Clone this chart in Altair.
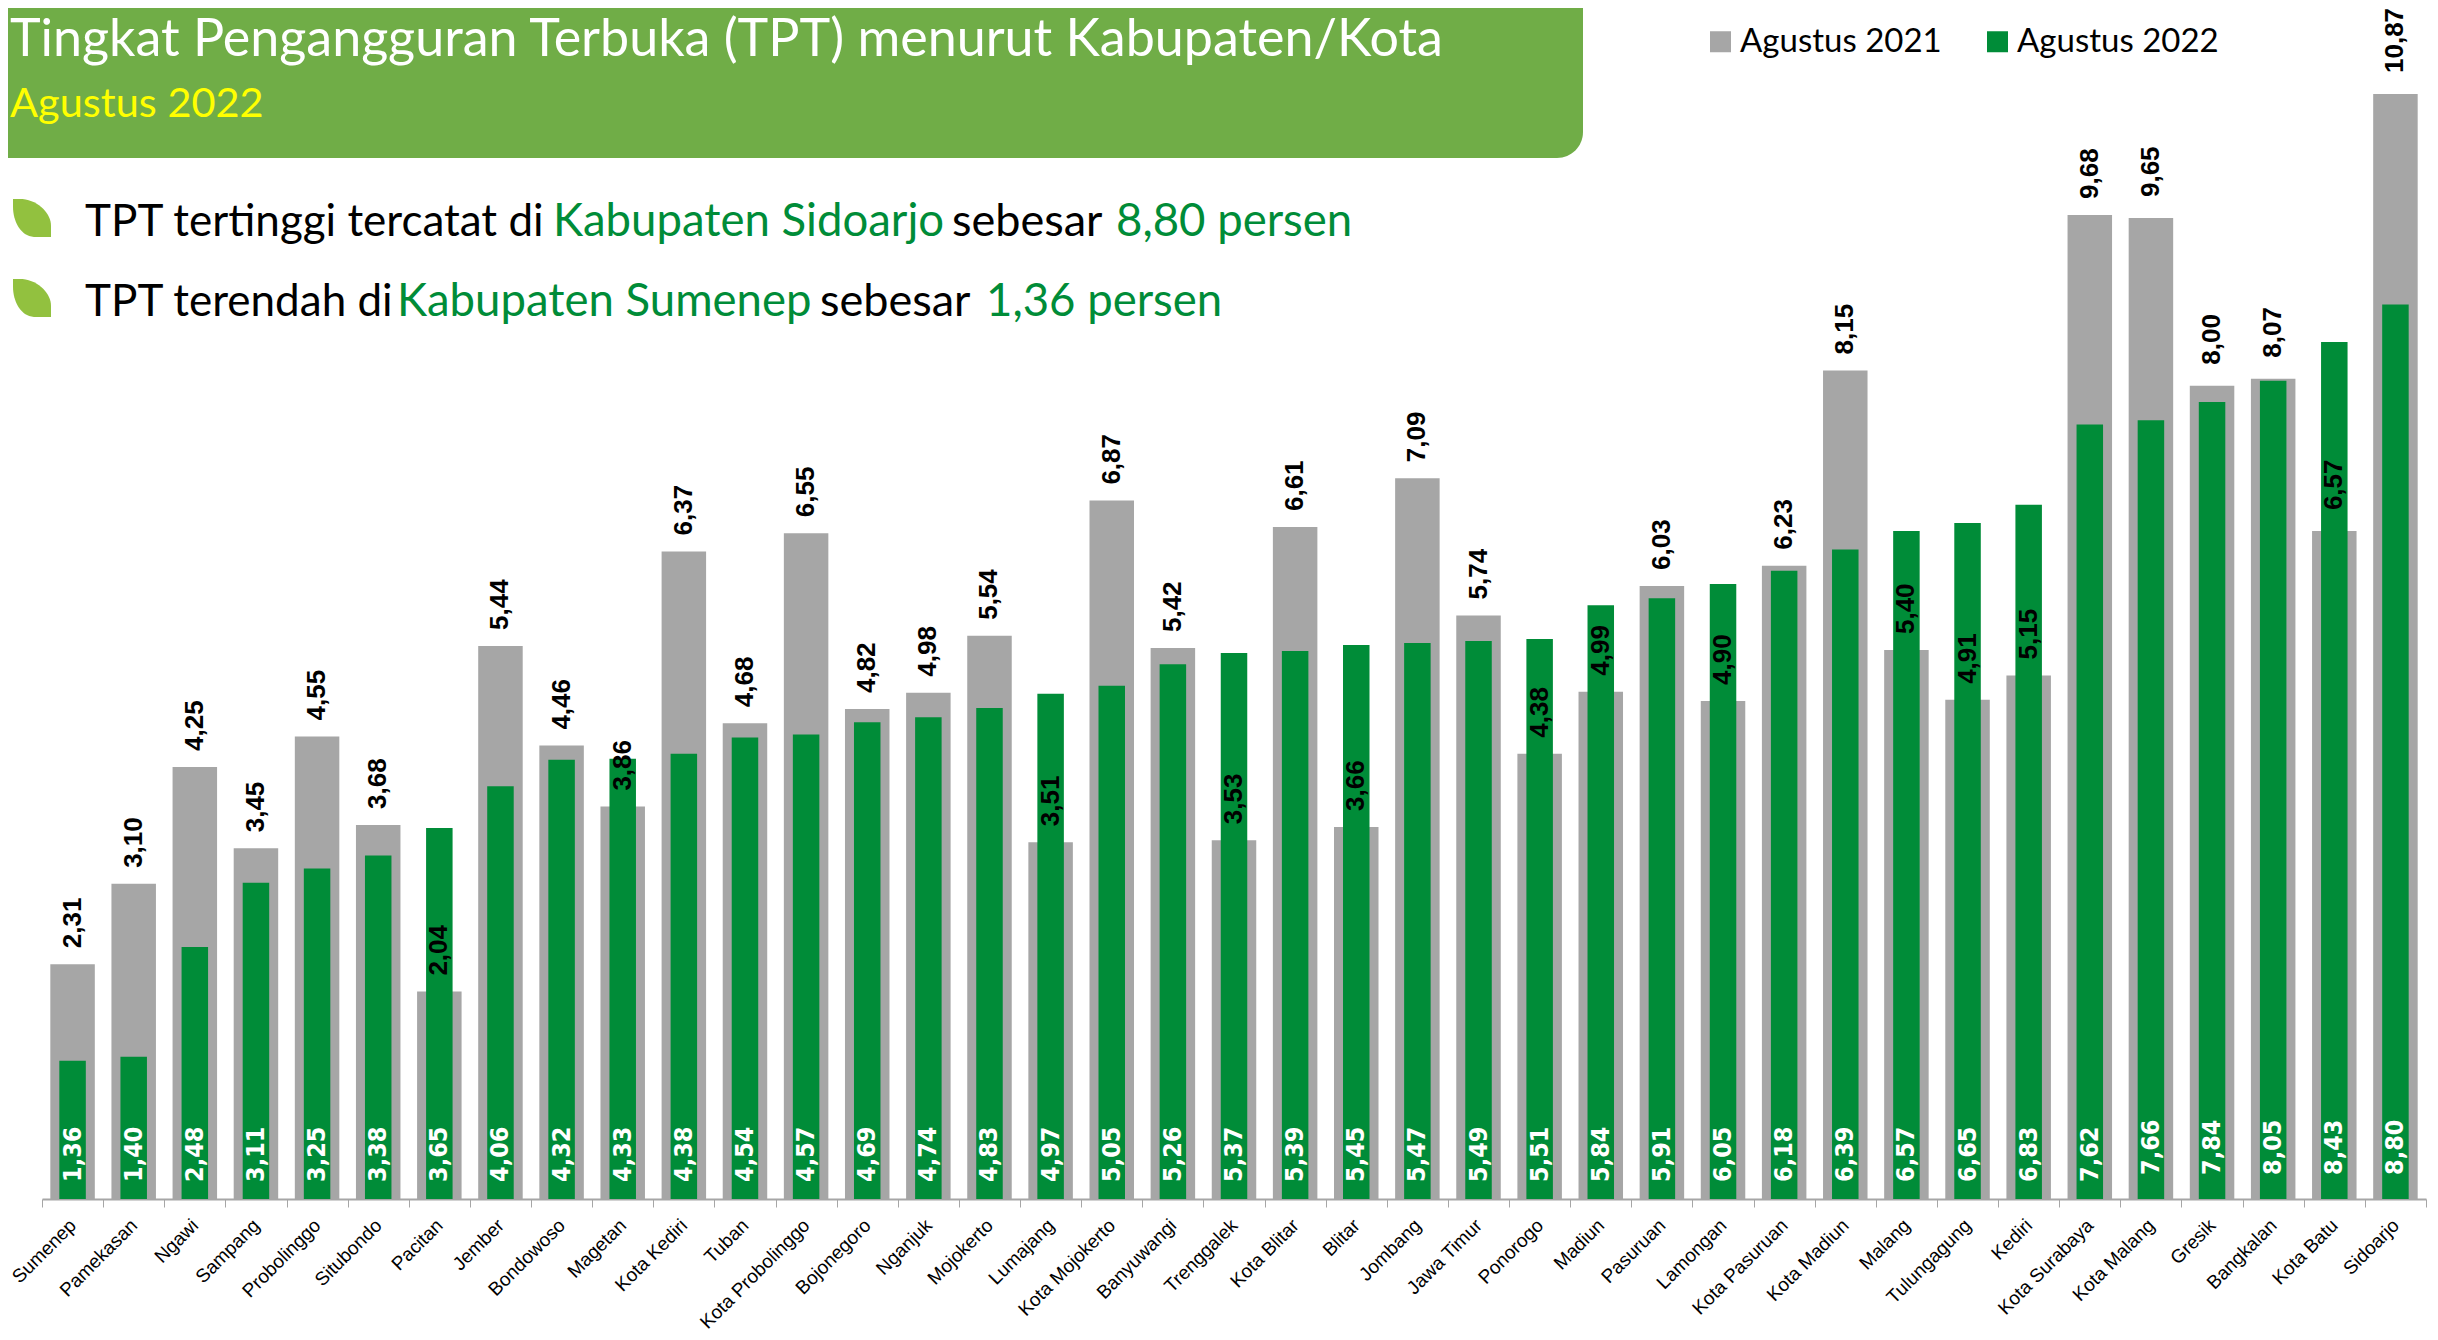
import altair as alt, pandas as pd

names = ["Sumenep", "Pamekasan", "Ngawi", "Sampang", "Probolinggo", "Situbondo", "Pacitan", "Jember", "Bondowoso", "Magetan", "Kota Kediri", "Tuban", "Kota Probolinggo", "Bojonegoro", "Nganjuk", "Mojokerto", "Lumajang", "Kota Mojokerto", "Banyuwangi", "Trenggalek", "Kota Blitar", "Blitar", "Jombang", "Jawa Timur", "Ponorogo", "Madiun", "Pasuruan", "Lamongan", "Kota Pasuruan", "Kota Madiun", "Malang", "Tulungagung", "Kediri", "Kota Surabaya", "Kota Malang", "Gresik", "Bangkalan", "Kota Batu", "Sidoarjo"]
v2021 = [2.31,3.10,4.25,3.45,4.55,3.68,2.04,5.44,4.46,3.86,6.37,4.68,6.55,4.82,4.98,5.54,3.51,6.87,5.42,3.53,6.61,3.66,7.09,5.74,4.38,4.99,6.03,4.90,6.23,8.15,5.40,4.91,5.15,9.68,9.65,8.00,8.07,6.57,10.87]
v2022 = [1.36,1.40,2.48,3.11,3.25,3.38,3.65,4.06,4.32,4.33,4.38,4.54,4.57,4.69,4.74,4.83,4.97,5.05,5.26,5.37,5.39,5.45,5.47,5.49,5.51,5.84,5.91,6.05,6.18,6.39,6.57,6.65,6.83,7.62,7.66,7.84,8.05,8.43,8.80]
shifted = ["Kota Malang", "Gresik", "Bangkalan", "Kota Batu", "Sidoarjo"]
df = pd.DataFrame({"name": names, "a": v2021, "b": v2022})
df["la"] = df.a.map(lambda v: f"{v:.2f}".replace(".", ","))
df["lb"] = df.b.map(lambda v: f"{v:.2f}".replace(".", ","))
df["shift"] = df.name.isin(shifted)

TXT = "Lato"
x = alt.X("name:N", sort=names, title=None, scale=alt.Scale(paddingInner=0, paddingOuter=0),
          axis=alt.Axis(labelAngle=-45, labelAlign="right", labelBaseline="middle", labelFont="Liberation Sans", labelFontSize=19,
                        labelColor="#000000", tickBand="extent", tickColor="#A6A6A6", tickSize=8, domainColor="#A6A6A6", domainWidth=2,
                        labelPadding=15, labelOverlap=False, labelLimit=300, grid=False))
dom = alt.Scale(domain=[0, 11.716], nice=False)
y = alt.Y("a:Q", title=None, axis=None, scale=dom)
color_scale = alt.Scale(domain=["Agustus 2021", "Agustus 2022"], range=["#A6A6A6", "#008C38"])
legend = alt.Legend(title=None, orient="none", legendX=1662, legendY=17, direction="horizontal", symbolType="square", symbolSize=441,
                    labelFont=TXT, labelFontSize=33, labelColor="#000", labelLimit=400, columnPadding=39, symbolStrokeWidth=0, labelOffset=3)
base = alt.Chart(df)
gray = base.mark_bar(size=44.5).encode(x=x, y=y, color=alt.Color("s:N", scale=color_scale, legend=legend)).transform_calculate(s="'Agustus 2021'")
green = base.mark_bar(size=26.5).encode(x=x, y=alt.Y("b:Q", axis=None, scale=dom), color=alt.Color("s:N", scale=color_scale, legend=legend)).transform_calculate(s="'Agustus 2022'")
def la(flt, off):
    return base.transform_filter(flt).mark_text(angle=270, align="left", baseline="middle", dx=off, font="Liberation Sans", fontWeight="bold", fontSize=26, color="#000").encode(x=x, y=y, text="la:N")
def lb(flt, off):
    return base.transform_filter(flt).mark_text(angle=270, align="left", baseline="middle", dx=off, font="DejaVu Sans Condensed", fontWeight="bold", fontSize=25, color="#fff").encode(x=x, y=alt.value(1174), text="lb:N")

one = pd.DataFrame({"a":[1]})
header = alt.Chart(one).mark_rect(color="#70AD47", cornerRadiusBottomRight=26).encode(x=alt.value(-40), x2=alt.value(1541), y=alt.value(-10), y2=alt.value(150))
def t(s, px, py, size, color, font=TXT):
    return alt.Chart(one).mark_text(align="left", baseline="alphabetic", font=font, fontSize=size, color=color, text=s).encode(x=alt.value(px-42), y=alt.value(py-8))
texts = [t("Tingkat Pengangguran Terbuka (TPT) menurut Kabupaten/Kota", 10, 56, 52, "#fff"),
         t("Agustus 2022", 10, 117, 41.5, "#FFFF00"),
         t("TPT tertinggi tercatat di", 85, 236, 44, "#000"), t("Kabupaten Sidoarjo", 553, 236, 45.5, "#008C38"),
         t("sebesar", 952, 236, 45, "#000"), t("8,80 persen", 1116, 236, 45.5, "#008C38"),
         t("TPT terendah di", 85, 316, 44, "#000"), t("Kabupaten Sumenep", 397, 316, 45.5, "#008C38"),
         t("sebesar", 820, 316, 45, "#000"), t("1,36 persen", 986, 316, 45.5, "#008C38")]
leaf = "M-1,-1 L-0.5,-1 C0.4,-0.9 1,-0.2 1,0.4 L1,1 L0.1,1 C-0.6,0.95 -1,0.2 -1,-0.6 Z"
leaves = [alt.Chart(one).mark_point(shape=leaf, filled=True, color="#92C13F", size=1444, opacity=1).encode(x=alt.value(-10), y=alt.value(py)) for py in (210, 290)]

chart = alt.layer(header, gray, green, la("!datum.shift", 16), la("datum.shift", 21), lb("!datum.shift", 0), lb("datum.shift", 7), *leaves, *texts).resolve_scale(color="shared").properties(
    width=2384, height=1191, padding={"left":34,"top":0,"right":4,"bottom":133}, autosize=alt.AutoSizeParams(type="none"), background="#fff"
).configure_view(stroke=None, strokeWidth=0)
chart.save("out.html", embed_options={"renderer": "svg", "actions": False})
